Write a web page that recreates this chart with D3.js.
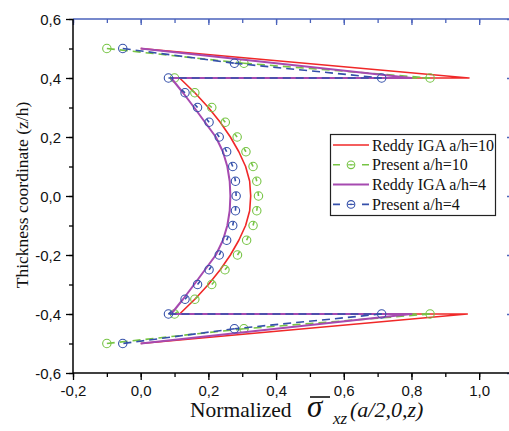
<!DOCTYPE html>
<meta charset="utf-8">
<style>
    body { margin: 0; background: #fff; }
    .tick text { font-family: "Liberation Sans", Arial, sans-serif; font-size: 15px; fill: #111; }
</style>
<svg width="509" height="431"></svg>
<script src="https://d3js.org/d3.v7.min.js"></script>
<script>

// thickness coordinates for the Reddy IGA curves
var zReddy = [0.5, 0.4, 0.4, 0.35, 0.3, 0.25, 0.2, 0.15, 0.1, 0.05, 0, -0.05, -0.1, -0.15, -0.2, -0.25, -0.3, -0.35, -0.4, -0.4, -0.5];
var reddy10 = [0, 0.97, 0.115, 0.16, 0.2, 0.235, 0.265, 0.29, 0.31, 0.322, 0.325, 0.322, 0.31, 0.29, 0.265, 0.235, 0.2, 0.16, 0.115, 0.965, 0];
var reddy4 = [0, 0.8, 0.09, 0.125, 0.158, 0.19, 0.222, 0.243, 0.256, 0.263, 0.265, 0.263, 0.256, 0.243, 0.222, 0.19, 0.158, 0.125, 0.09, 0.8, 0];

// thickness coordinates for the present results
var zPresent = [0.5, 0.45, 0.4, 0.4, 0.35, 0.3, 0.25, 0.2, 0.15, 0.1, 0.05, 0, -0.05, -0.1, -0.15, -0.2, -0.25, -0.3, -0.35, -0.4, -0.4, -0.45, -0.5];
var present10 = [-0.1, 0.305, 0.855, 0.1, 0.16, 0.21, 0.25, 0.285, 0.311, 0.332, 0.343, 0.348, 0.343, 0.332, 0.313, 0.286, 0.249, 0.21, 0.16, 0.1, 0.855, 0.305, -0.1];
var present4 = [-0.053, 0.277, 0.712, 0.082, 0.131, 0.168, 0.202, 0.232, 0.254, 0.272, 0.28, 0.282, 0.28, 0.272, 0.254, 0.232, 0.202, 0.168, 0.131, 0.082, 0.712, 0.277, -0.053];

var xMajor = [-0.2, 0, 0.2, 0.4, 0.6, 0.8, 1.0];
var yMajor = [-0.6, -0.4, -0.2, 0, 0.2, 0.4, 0.6];

var series = [
    {name: "Reddy IGA a/h=10", z: zReddy, v: reddy10, color: "#f02828", width: 1.6, dash: null, marker: false},
    {name: "Present a/h=10", z: zPresent, v: present10, color: "#76c444", width: 1.6, dash: "8,5", marker: true},
    {name: "Reddy IGA a/h=4", z: zReddy, v: reddy4, color: "#a64ab0", width: 2, dash: null, marker: false},
    {name: "Present a/h=4", z: zPresent, v: present4, color: "#3550aa", width: 1.6, dash: "8,5", marker: true}
];

var SERIF = "'Liberation Serif', 'Times New Roman', Times, serif";
var BLUE = "#4a62bb";

var svg = d3.select("svg");
var x = d3.scaleLinear().domain([-0.2, 1.1]).range([73, 513]),
    y = d3.scaleLinear().domain([-0.6, 0.6]).range([373, 19]);

var fmt = function(d) {
    if (Math.abs(d) < 1e-9) d = 0;
    return d.toFixed(1).replace(".", ",");
};
var minor = function(lo, hi) {
    var out = [];
    for (var i = Math.round(lo * 10); i <= Math.round(hi * 10); i++) out.push(i / 10);
    return out;
};

// minor ticks
svg.append("g").attr("transform", "translate(0,373)")
    .call(d3.axisBottom(x).tickValues(minor(-0.2, 1.1)).tickSize(4).tickFormat(""));
svg.append("g").attr("transform", "translate(73,0)")
    .call(d3.axisLeft(y).tickValues(minor(-0.6, 0.6)).tickSize(4).tickFormat(""));
var topMinor = svg.append("g").attr("transform", "translate(0,19)")
    .call(d3.axisTop(x).tickValues(minor(-0.2, 1.1)).tickSize(-4).tickFormat(""));
var rightMinor = svg.append("g").attr("transform", "translate(513,0)")
    .call(d3.axisRight(y).tickValues(minor(-0.6, 0.6)).tickSize(-4).tickFormat(""));

// major ticks
var gx = svg.append("g").attr("transform", "translate(0,373)")
    .call(d3.axisBottom(x).tickValues(xMajor).tickSize(7).tickPadding(5).tickFormat(fmt));
var gy = svg.append("g").attr("transform", "translate(73,0)")
    .call(d3.axisLeft(y).tickValues(yMajor).tickSize(7).tickPadding(5).tickFormat(fmt));
var topMajor = svg.append("g").attr("transform", "translate(0,19)")
    .call(d3.axisTop(x).tickValues(xMajor.concat([1.1])).tickSize(-6).tickFormat(""));
var rightMajor = svg.append("g").attr("transform", "translate(513,0)")
    .call(d3.axisRight(y).tickValues(yMajor).tickSize(-6).tickFormat(""));

svg.selectAll(".domain").remove();
svg.selectAll(".tick line").attr("stroke-width", 1.3);
[topMinor, rightMinor, topMajor, rightMajor].forEach(function(g) {
    g.selectAll(".tick line").attr("stroke", BLUE);
});
gy.selectAll(".tick text").attr("dy", "0.34em");

// axis lines
svg.append("line").attr("x1", 73).attr("x2", 513).attr("y1", 19).attr("y2", 19)
    .attr("stroke", BLUE).attr("stroke-width", 1.5);
svg.append("line").attr("x1", 513).attr("x2", 513).attr("y1", 19).attr("y2", 373)
    .attr("stroke", BLUE).attr("stroke-width", 1.5);
svg.append("line").attr("x1", 73).attr("x2", 513).attr("y1", 373).attr("y2", 373)
    .attr("stroke", "#000").attr("stroke-width", 1.5);
svg.append("line").attr("x1", 73).attr("x2", 73).attr("y1", 19).attr("y2", 373)
    .attr("stroke", "#000").attr("stroke-width", 1.5);

// curves
var line = d3.line()
    .x(function(d) { return x(d[0]); })
    .y(function(d) { return y(d[1]); });

series.forEach(function(s) {
    var pts = s.v.map(function(v, i) { return [v, s.z[i]]; });
    if (!s.dash) {
        svg.append("path")
            .datum(pts)
            .attr("fill", "none")
            .attr("stroke", s.color)
            .attr("stroke-width", s.width)
            .attr("stroke-linejoin", "round")
            .attr("d", line);
        return;
    }
    // dashed: the pattern restarts on every segment, so short
    // segments only show a stub inside the next symbol
    var segs = d3.pairs(pts);
    svg.append("g").selectAll("line")
        .data(segs)
        .enter().append("line")
        .attr("x1", function(d) { return x(d[0][0]); })
        .attr("y1", function(d) { return y(d[0][1]); })
        .attr("x2", function(d) { return x(d[1][0]); })
        .attr("y2", function(d) { return y(d[1][1]); })
        .attr("stroke", s.color)
        .attr("stroke-width", s.width)
        .attr("stroke-dasharray", function(d) {
            var len = Math.hypot(x(d[1][0]) - x(d[0][0]), y(d[1][1]) - y(d[0][1]));
            return len > 40 ? s.dash : "0," + (len - 4) + ",4";
        });
    svg.append("g").selectAll("circle")
        .data(pts)
        .enter().append("circle")
        .attr("cx", function(d) { return x(d[0]); })
        .attr("cy", function(d) { return y(d[1]); })
        .attr("r", 4.2)
        .attr("fill", "none")
        .attr("stroke", s.color)
        .attr("stroke-width", 1.1);
});

// legend
var lg = svg.append("g");
lg.append("rect").attr("x", 330.5).attr("y", 134.5).attr("width", 165).attr("height", 81)
    .attr("fill", "#fff").attr("stroke", "#222").attr("stroke-width", 1.2);
series.forEach(function(s, i) {
    var yy = 145 + i * 19.8;
    lg.append("line").attr("x1", 333).attr("x2", 369).attr("y1", yy).attr("y2", yy)
        .attr("stroke", s.color).attr("stroke-width", s.width)
        .attr("stroke-dasharray", s.dash ? "7,10.5,1,10.5,7" : null);
    if (s.marker) {
        lg.append("circle").attr("cx", 351).attr("cy", yy).attr("r", 3.8)
            .attr("fill", "none").attr("stroke", s.color).attr("stroke-width", 1.1);
        lg.append("line").attr("x1", 348).attr("x2", 354).attr("y1", yy).attr("y2", yy)
            .attr("stroke", s.color).attr("stroke-width", 1.1);
    }
    lg.append("text").attr("x", 372).attr("y", yy + 5.5)
        .attr("font-family", SERIF).attr("fill", "#111")
        .attr("font-size", "16px").text(s.name);
});

// axis titles
svg.append("text")
    .attr("transform", "translate(28,195) rotate(-90)")
    .attr("text-anchor", "middle")
    .attr("font-family", SERIF).attr("fill", "#111")
    .attr("font-size", "17.5px")
    .text("Thickness coordinate (z/h)");

svg.append("text").attr("x", 190).attr("y", 417)
    .attr("font-family", SERIF).attr("fill", "#111").attr("font-size", "21.5px")
    .text("Normalized");
svg.append("text").attr("x", 307).attr("y", 417)
    .attr("font-family", SERIF).attr("fill", "#111").attr("font-style", "italic").attr("font-size", "31px")
    .text("σ");
svg.append("text").attr("x", 333).attr("y", 424)
    .attr("font-family", SERIF).attr("fill", "#111").attr("font-style", "italic").attr("font-size", "17px")
    .text("xz");
svg.append("text").attr("x", 350).attr("y", 417)
    .attr("font-family", SERIF).attr("fill", "#111").attr("font-style", "italic").attr("font-size", "22px")
    .text("(a/2,0,z)");
svg.append("line").attr("x1", 310).attr("x2", 330).attr("y1", 397).attr("y2", 397)
    .attr("stroke", "#111").attr("stroke-width", 1.6);

</script>
